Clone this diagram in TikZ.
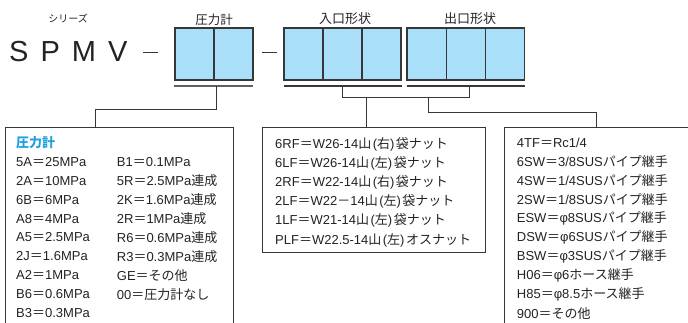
\documentclass[tikz,border=0pt]{standalone}
\usepackage{fontspec}
\setmainfont{Liberation Sans}
\newfontfamily\jpf{Noto Sans CJK JP}
\newcommand\jp[1]{{\jpf #1}}
\newcommand\pl{\hspace{1.5pt}(}
\newcommand\pr{)\hspace{1.5pt}}
\definecolor{cellblue}{RGB}{170,223,249}
\definecolor{hdrblue}{RGB}{30,160,225}
\definecolor{txt}{RGB}{35,35,35}
\definecolor{ln}{RGB}{55,55,55}
\begin{document}
\begin{tikzpicture}[x=1pt,y=-1pt,
  cell/.style={draw=ln,line width=1.1pt,fill=cellblue,minimum height=52pt,inner sep=0pt,anchor=north west,outer sep=0pt},
  ulin/.style={draw=ln,line width=1.1pt},
  conn/.style={draw=ln,line width=1pt},
  listbox/.style={draw=ln,line width=1pt,anchor=north west,inner sep=0pt,outer sep=0pt},
  lt/.style={anchor=west,inner sep=0pt,text=txt,font=\fontsize{13}{15}\selectfont},
  lbl/.style={inner sep=0pt,text=txt,font=\jpf\fontsize{13}{15}\selectfont}]
\useasboundingbox (0,0) rectangle (688,322);
% series label and name
\node[inner sep=0pt,text=txt,font=\jpf\fontsize{10}{12}\selectfont] (ser) at (68,18) {シリーズ};
\node[anchor=west,inner sep=0pt,text=txt,font=\fontsize{29}{30}\selectfont] (spmv) at (9,52) {S\hspace{12pt}P\hspace{12pt}M\hspace{12pt}V};
\draw[conn] (143,52) -- (158,52);
\draw[conn] (262,52) -- (277,52);
% titles
\node[lbl,font=\jpf\fontsize{12.5}{14}\selectfont] (t1) at (214,20) {圧力計};
\node[lbl] (t2) at (345,19) {入口形状};
\node[lbl] (t3) at (470,19) {出口形状};
% pressure cells
\node[cell,minimum width=39pt] (p1) at (175,28) {};
\node[cell,minimum width=39pt] (p2) at (214,28) {};
% inlet cells
\node[cell,minimum width=39pt] (i1) at (284,28) {};
\node[cell,minimum width=39pt] (i2) at (323,28) {};
\node[cell,minimum width=39pt] (i3) at (362,28) {};
% outlet cells
\node[cell,minimum width=39.3pt] (o1) at (407,28) {};
\node[cell,minimum width=39.3pt] (o2) at (446.3,28) {};
\node[cell,minimum width=39.3pt] (o3) at (485.6,28) {};
% underlines
\coordinate (pu1) at (174,86); \coordinate (pu2) at (253,86);
\coordinate (iu1) at (284,86); \coordinate (iu2) at (402,86);
\coordinate (ou1) at (407,86); \coordinate (ou2) at (525,86);
\draw[ulin,draw=ln!80] (pu1) -- (pu2);
\draw[ulin] (iu1) -- (iu2);
\draw[ulin] (ou1) -- (ou2);
% list boxes
\node[listbox,minimum width=228pt,minimum height=220pt] (b1) at (5,127.5) {};
\node[listbox,minimum width=223.4pt,minimum height=124.8pt] (b2) at (262.3,127.5) {};
\node[listbox,minimum width=200pt,minimum height=220pt] (b3) at (504.5,127.5) {};
% connectors
\coordinate (pc) at (216,86);
\coordinate (bl) at (342.3,86); \coordinate (br) at (469.3,86);
\draw[conn] (pc) -- (216,109) -| (b1.north west -| 95.7,0);
\draw[conn] (bl) |- (469.3,97) -- (br);
\draw[conn] (366,97) -- (b2.north west -| 366,0);
\draw[conn] (428.3,97) |- (596,112) -- (b3.north west -| 596,0);
% box 1
\node[lt,text=hdrblue,font=\jpf\bfseries\fontsize{13}{15}\selectfont] (h1) at (16,143) {圧力計};
\foreach \a/\b [count=\i] in {
 5A\jp{＝}25MPa/B1\jp{＝}0.1MPa,
 2A\jp{＝}10MPa/5R\jp{＝}2.5MPa\jp{連成},
 6B\jp{＝}6MPa/2K\jp{＝}1.6MPa\jp{連成},
 A8\jp{＝}4MPa/2R\jp{＝}1MPa\jp{連成},
 A5\jp{＝}2.5MPa/R6\jp{＝}0.6MPa\jp{連成},
 2J\jp{＝}1.6MPa/R3\jp{＝}0.3MPa\jp{連成},
 A2\jp{＝}1MPa/GE\jp{＝その他},
 B6\jp{＝}0.6MPa/00\jp{＝圧力計なし}}{
  \node[lt] (la\i) at (16,143+18.9*\i) {\a};
  \node[lt] (lb\i) at (116.7,143+18.9*\i) {\b};
}
\node[lt] (la9) at (16,143+18.9*9) {B3\jp{＝}0.3MPa};
% box 2
\foreach \a [count=\i from 0] in {
 6RF\jp{＝}W26-14\jp{山}\pl\jp{右}\pr\jp{袋ナット},
 6LF\jp{＝}W26-14\jp{山}\pl\jp{左}\pr\jp{袋ナット},
 2RF\jp{＝}W22-14\jp{山}\pl\jp{右}\pr\jp{袋ナット},
 2LF\jp{＝}W22\jp{－}14\jp{山}\pl\jp{左}\pr\jp{袋ナット},
 1LF\jp{＝}W21-14\jp{山}\pl\jp{左}\pr\jp{袋ナット},
 PLF\jp{＝}W22.5-14\jp{山}\pl\jp{左}\pr\jp{オスナット}}{
  \node[lt] (m\i) at (275,144+19.2*\i) {\a};
}
% box 3
\foreach \a [count=\i from 0] in {
 4TF\jp{＝}Rc1/4,
 6SW\jp{＝}3/8SUS\jp{パイプ継手},
 4SW\jp{＝}1/4SUS\jp{パイプ継手},
 2SW\jp{＝}1/8SUS\jp{パイプ継手},
 ESW\jp{＝}φ8SUS\jp{パイプ継手},
 DSW\jp{＝}φ6SUS\jp{パイプ継手},
 BSW\jp{＝}φ3SUS\jp{パイプ継手},
 H06\jp{＝}φ6\jp{ホース継手},
 H85\jp{＝}φ8.5\jp{ホース継手},
 900\jp{＝その他}}{
  \node[lt] (r\i) at (516.7,143+18.9*\i) {\a};
}
\end{tikzpicture}
\end{document}
